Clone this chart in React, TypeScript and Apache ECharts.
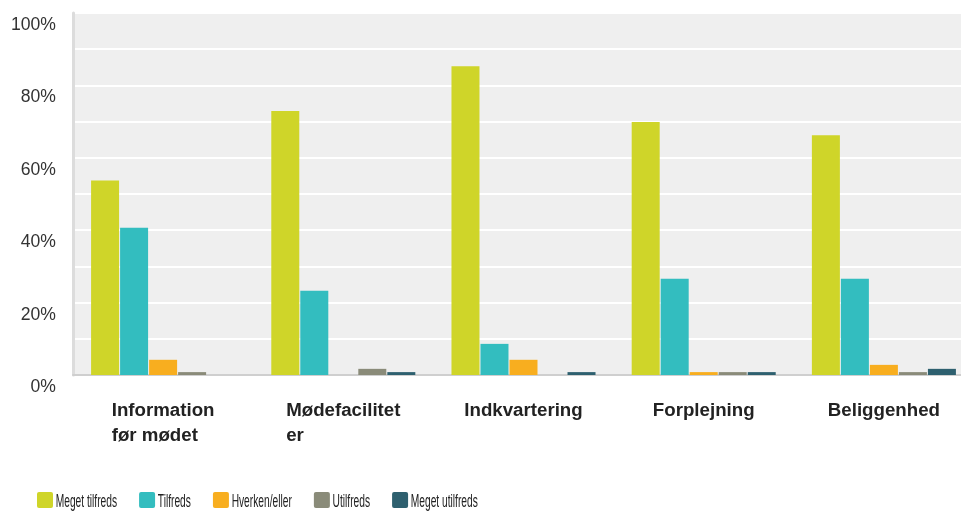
import { useEffect, useRef } from 'react';
import * as echarts from 'echarts';

const categories = ['Information før mødet', 'Mødefaciliteter', 'Indkvartering', 'Forplejning', 'Beliggenhed'];
const categoryLabels = ['Information\nfør mødet', 'Mødefacilitet\ner', 'Indkvartering', 'Forplejning', 'Beliggenhed'];
const seriesNames = ['Meget tilfreds', 'Tilfreds', 'Hverken/eller', 'Utilfreds', 'Meget utilfreds'];
const megetTilfreds = [53.7, 72.9, 85.3, 69.9, 66.2];
const tilfreds = [40.7, 23.3, 8.6, 26.6, 26.6];
const hverkenEller = [4.2, 0, 4.2, 0.8, 2.8];
const utilfreds = [0.8, 1.7, 0, 0.8, 0.8];
const megetUtilfreds = [0, 0.8, 0.8, 0.8, 1.7];
const seriesValues = [megetTilfreds, tilfreds, hverkenEller, utilfreds, megetUtilfreds];
const colors = ['#cfd529', '#33bdbf', '#f8ae1f', '#8a8b79', '#2e606f'];

const LEGEND_FONT = "'Liberation Sans', Arial, sans-serif";
const LEGEND_SIZE = 18.6;
const LEGEND_SCALE = 0.55;

function buildLegend() {
  const canvas = document.createElement('canvas');
  const ctx = canvas.getContext('2d');
  if (ctx) ctx.font = `${LEGEND_SIZE}px ${LEGEND_FONT}`;
  const elements: any[] = [];
  let x = 37;
  const y = 492;
  seriesNames.forEach((name, i) => {
    elements.push({
      type: 'rect',
      shape: { x, y, width: 16, height: 16, r: 2 },
      style: { fill: colors[i] },
    });
    const tx = x + 18.7;
    elements.push({
      type: 'text',
      x: tx,
      y: y + 8,
      scaleX: LEGEND_SCALE,
      scaleY: 1,
      style: {
        text: name,
        fontFamily: LEGEND_FONT,
        fontSize: LEGEND_SIZE,
        fill: '#222',
        verticalAlign: 'middle',
        align: 'left',
      },
    });
    const w = ctx ? ctx.measureText(name).width : name.length * 9;
    x = tx + w * LEGEND_SCALE + 22;
  });
  return elements;
}

export default function App() {
  const ref = useRef<HTMLDivElement>(null);
  useEffect(() => {
    if (!ref.current) return;
    const chart = echarts.init(ref.current, undefined, { renderer: 'svg' });
    chart.setOption({
      animation: false,
      color: colors,
      grid: {
        left: 73,
        top: 13,
        width: 901,
        height: 362,
        show: true,
        backgroundColor: '#efefef',
        borderWidth: 0,
      },
      graphic: buildLegend(),
      xAxis: {
        type: 'category',
        data: categories,
        axisLine: { show: true, lineStyle: { color: '#cfcfcf', width: 2 } },
        axisTick: { show: false },
        splitLine: { show: false },
        axisLabel: {
          interval: 0,
          margin: 22,
          align: 'center',
          formatter: (_v: string, i: number) =>
            categoryLabels[i].split('\n').map((l) => `{a|${l}}`).join('\n'),
          rich: {
            a: {
              fontFamily: "'Liberation Sans', Arial, sans-serif",
              fontSize: 18.7,
              fontWeight: 'bold',
              color: '#222',
              lineHeight: 25,
              align: 'left',
            },
          },
        },
      },
      yAxis: {
        type: 'value',
        min: 0,
        max: 100,
        interval: 10,
        axisLine: { show: true, lineStyle: { color: '#dcdcdc', width: 3 } },
        axisTick: { show: false },
        splitLine: { show: true, lineStyle: { color: '#ffffff', width: 2 } },
        axisLabel: {
          margin: 17,
          formatter: (v: number) => (v % 20 === 0 ? `${v}%` : ''),
          fontFamily: "'Liberation Sans', Arial, sans-serif",
          fontSize: 17.6,
          color: '#333',
          verticalAlign: 'top',
          lineHeight: 22,
        },
      },
      series: seriesNames.map((name, i) => ({
        name,
        type: 'bar',
        data: seriesValues[i],
        barWidth: 28,
        barGap: '3.6%',
        itemStyle: { color: colors[i] },
      })),
    });
    return () => chart.dispose();
  }, []);
  return (
    <div style={{ position: 'fixed', left: 0, top: 0, width: 961, height: 511, overflow: 'hidden' }}>
      <div ref={ref} style={{ width: 975, height: 511 }} />
    </div>
  );
}
